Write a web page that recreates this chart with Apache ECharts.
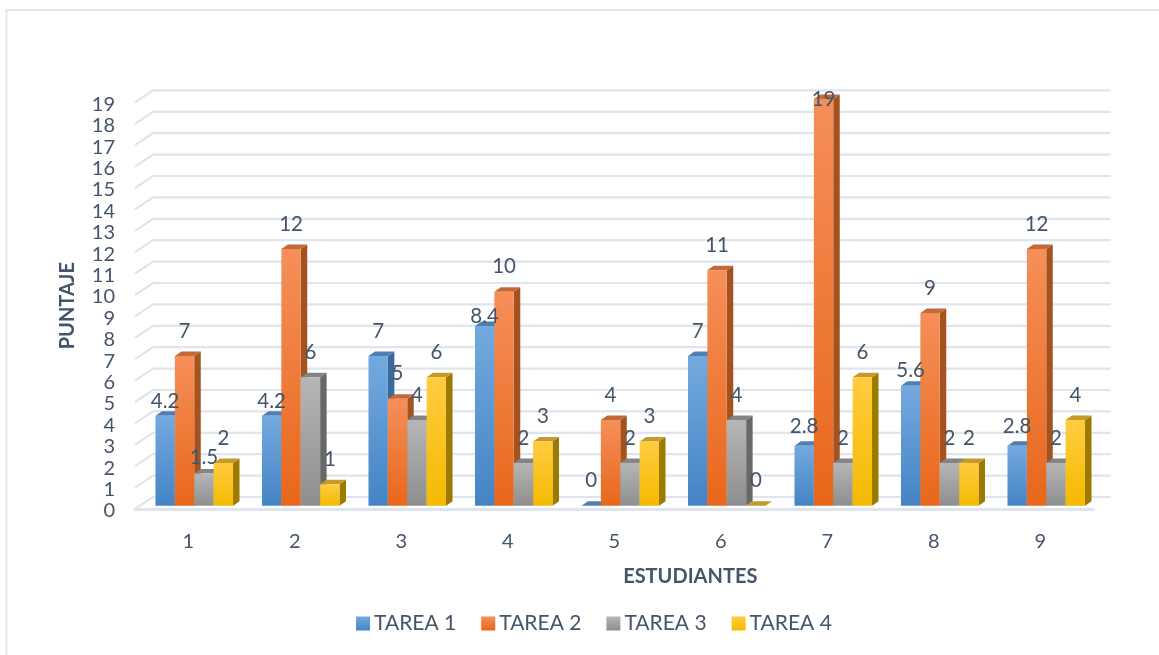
<!DOCTYPE html>
<html>
<head>
<meta charset="utf-8">
<style>
    html, body { margin: 0; padding: 0; background: #fff; }
    #chart { width: 1159px; height: 655px; }
</style>
<script src="https://cdn.jsdelivr.net/npm/echarts@6/dist/echarts.min.js"></script>
</head>
<body>
<div id="chart"></div>
<script>
const categories = ['1', '2', '3', '4', '5', '6', '7', '8', '9']
const yTicks = [0, 1, 2, 3, 4, 5, 6, 7, 8, 9, 10, 11, 12, 13, 14, 15, 16, 17, 18, 19]
const tarea1 = [4.2, 4.2, 7, 8.4, 0, 7, 2.8, 5.6, 2.8]
const tarea2 = [7, 12, 5, 10, 4, 11, 19, 9, 12]
const tarea3 = [1.5, 6, 4, 2, 2, 4, 2, 2, 2]
const tarea4 = [2, 1, 6, 3, 3, 0, 6, 2, 4]
const seriesNames = ['TAREA 1', 'TAREA 2', 'TAREA 3', 'TAREA 4']
const seriesValues = [tarea1, tarea2, tarea3, tarea4]

// front light, front dark, top face, side face
const palette = [
    ['#74a9df', '#4484c4', '#4f7fb0', '#3a6a9c'],
    ['#f58f5a', '#e8671a', '#c4683a', '#a4521f'],
    ['#b6b6b6', '#8e8e8e', '#848484', '#686868'],
    ['#ffcc40', '#f4ba00', '#c49a28', '#9c7a00']
]
const textColor = '#44546a'
const lineColor = '#e0e4ec'
const font = 'Lato'

function frontGradient(p) {
    return new echarts.graphic.LinearGradient(0, 0, 0, 1, [
        { offset: 0, color: p[0] },
        { offset: 1, color: p[1] }
    ])
}

// wall lines sit behind the front plane of the floor
function renderWall(params, api) {
    const v = api.value(0)
    const p = api.coord([0, v])
    const bandW = api.size([1, 0])[0]
    const x0 = p[0] - bandW / 2
    const x1 = x0 + bandW * categories.length
    return {
        type: 'polyline',
        shape: { points: [[x0, p[1]], [x0 + 18, p[1] - 12], [x1 + 17, p[1] - 12]] },
        style: { fill: null, stroke: lineColor, lineWidth: 2.2 },
        silent: true
    }
}

// how far above the bar the label floats, as placed in the original
const labelLifts = { 19: 0, 8.4: 10, 5.6: 15, 4.2: 14, 2.8: 19, 1.5: 16 }
function labelLift(val) {
    return labelLifts[val] !== undefined ? labelLifts[val] : 25
}

function makeRenderBar(idx) {
    const p = palette[idx]
    return function (params, api) {
        const cat = api.value(0)
        const val = api.value(1)
        const base = api.coord([cat, 0])
        const top = api.coord([cat, val])
        const w = api.size([1, 0])[0] * 0.182
        const left = base[0] + 6 + (idx - 2) * w
        const yb = base[1] - 3.3
        const yt = top[1] - 3.3
        const dx = 6.5
        const dy = 4.5
        return {
            type: 'group',
            children: [
                { type: 'polygon', shape: { points: [[left + w, yt], [left + w + dx, yt - dy], [left + w + dx, yb - dy], [left + w, yb]] }, style: { fill: p[3] } },
                { type: 'polygon', shape: { points: [[left, yt], [left + dx, yt - dy], [left + w + dx, yt - dy], [left + w, yt]] }, style: { fill: p[2] } },
                { type: 'rect', shape: { x: left, y: yt, width: w, height: yb - yt }, style: { fill: frontGradient(p) } },
                {
                    type: 'text', z2: 100,
                    style: {
                        x: left + w / 2, y: yt - labelLift(val),
                        text: String(val), fill: textColor,
                        font: '20.5px ' + font, align: 'center', verticalAlign: 'middle'
                    }
                }
            ]
        }
    }
}

const myecharts = echarts.init(document.getElementById('chart'))

const series = [{
    name: 'wall',
    type: 'custom',
    coordinateSystem: 'cartesian2d',
    data: yTicks.map(t => [t]),
    encode: { y: 0 },
    renderItem: renderWall,
    silent: true,
    z: 1
}]
seriesNames.forEach((name, i) => {
    series.push({
        name: name,
        type: 'custom',
        coordinateSystem: 'cartesian2d',
        data: seriesValues[i].map((v, k) => [k, v]),
        encode: { x: 0, y: 1 },
        renderItem: makeRenderBar(i),
        itemStyle: { color: frontGradient(palette[i]) },
        z: 2
    })
})

myecharts.setOption({
    animation: false,
    backgroundColor: '#fff',
    textStyle: { fontFamily: font, color: textColor },
    graphic: [{
        type: 'polyline',
        shape: { points: [[6.5, 655], [6.5, 10], [1159, 10]] },
        style: { fill: null, stroke: '#e3e7ed', lineWidth: 2 },
        silent: true
    }],
    legend: {
        data: seriesNames,
        left: 351,
        top: 608,
        itemWidth: 14,
        itemHeight: 14,
        itemGap: 25,
        icon: 'rect',
        textStyle: { fontFamily: font, fontSize: 21, color: textColor, padding: [2, 0, 0, -1] }
    },
    grid: { left: 135, top: 102.4, width: 958.5, height: 406.6 },
    xAxis: {
        type: 'category',
        data: categories,
        name: 'ESTUDIANTES',
        nameLocation: 'middle',
        nameGap: 58,
        nameTextStyle: { fontFamily: font, fontSize: 20, fontWeight: 'bold', color: textColor, padding: [0, 0, 0, 152] },
        axisLine: { lineStyle: { color: lineColor, width: 3 } },
        axisTick: { show: false },
        axisLabel: { fontFamily: font, fontSize: 20, color: textColor, margin: 23 }
    },
    yAxis: {
        type: 'value',
        min: 0,
        max: 19,
        interval: 1,
        name: 'PUNTAJE',
        nameLocation: 'middle',
        nameGap: 57,
        nameTextStyle: { fontFamily: font, fontSize: 20, fontWeight: 'bold', color: textColor },
        axisLine: { show: false },
        axisTick: { show: false },
        splitLine: { show: false },
        axisLabel: { fontFamily: font, fontSize: 20, color: textColor, margin: 20, verticalAlign: 'top', padding: [-8, 0, 0, 0] }
    },
    series: series
})
</script>
</body>
</html>
